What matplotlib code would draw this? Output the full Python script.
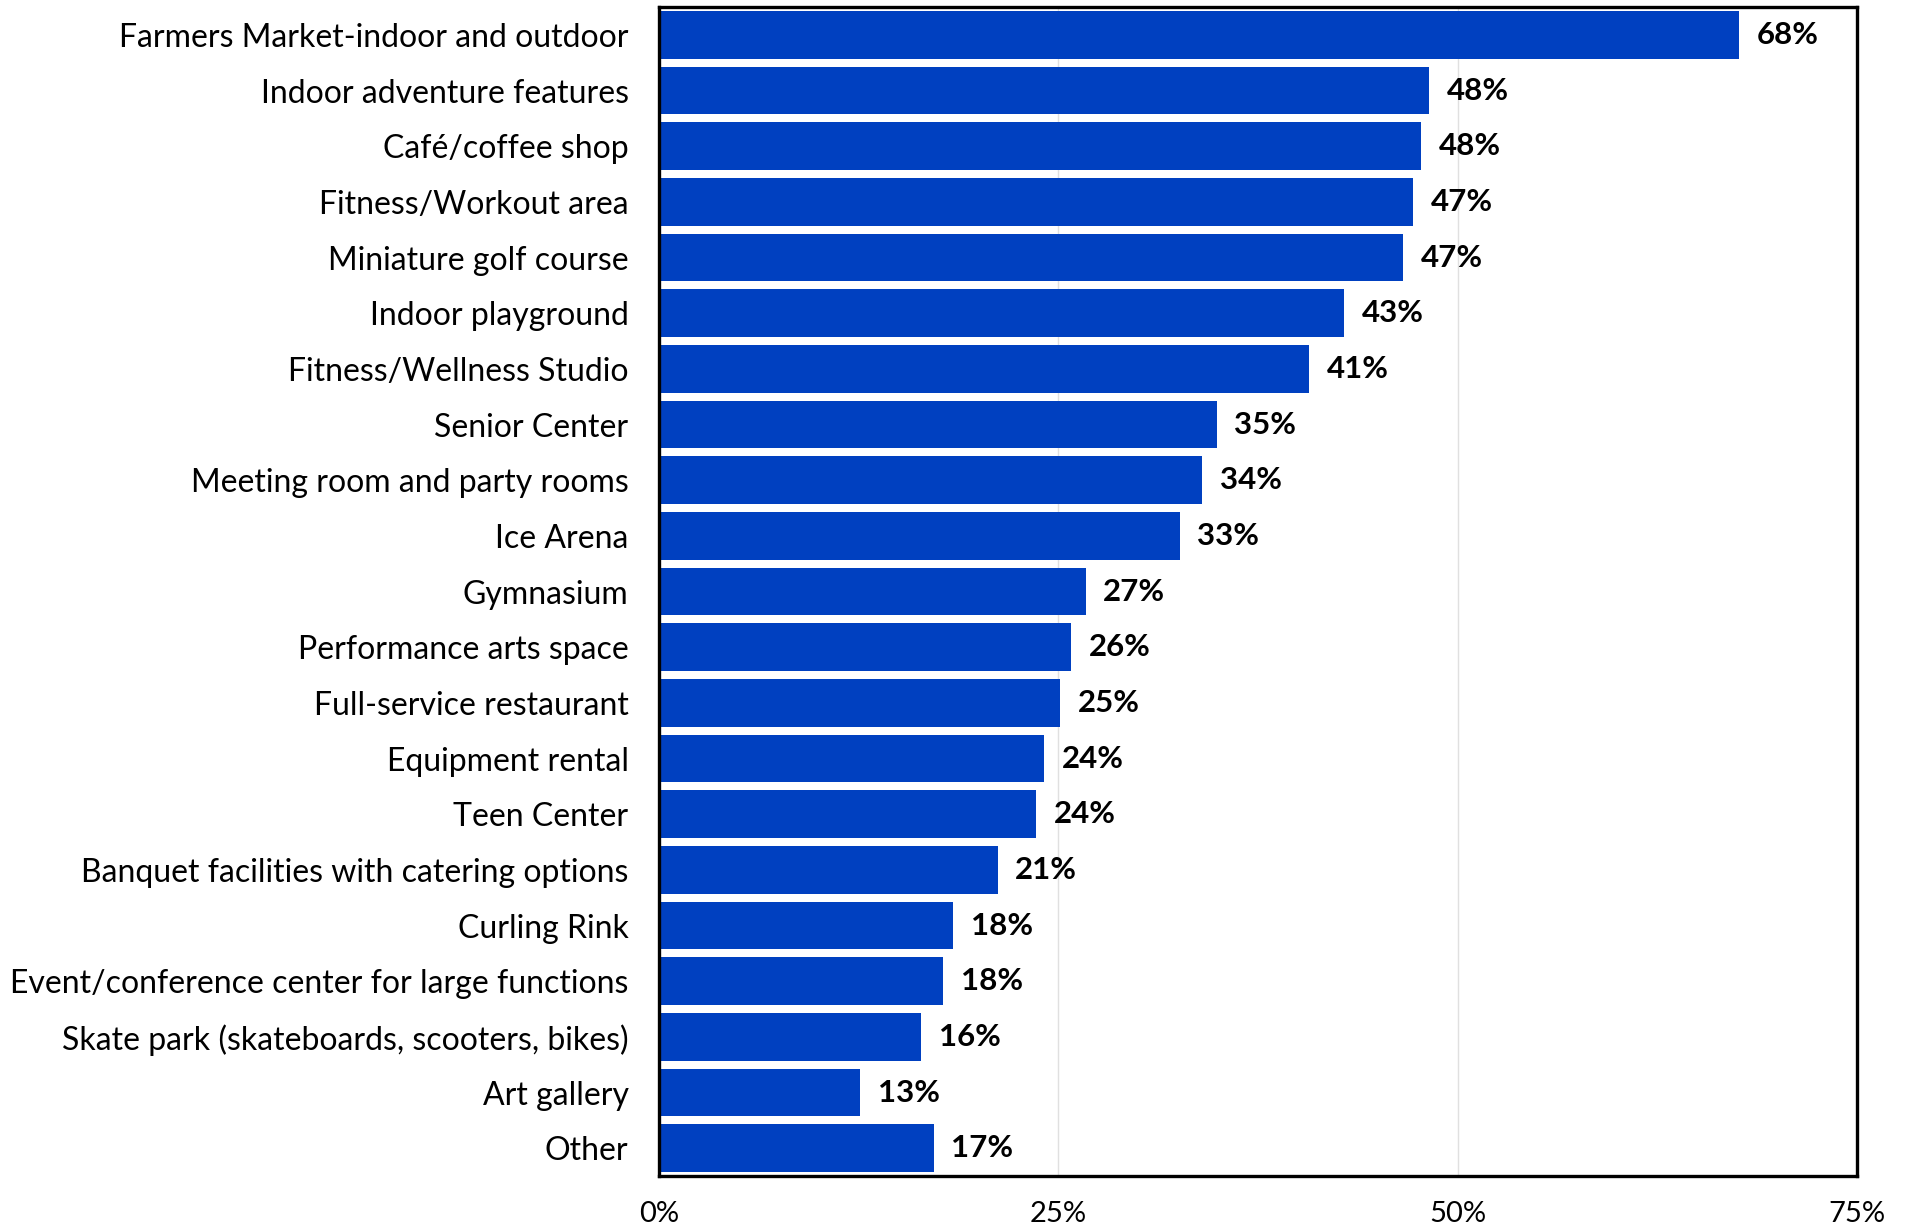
import matplotlib.pyplot as plt
import numpy as np

categories = [
    'Farmers Market-indoor and outdoor', 'Indoor adventure features', 'Café/coffee shop',
    'Fitness/Workout area', 'Miniature golf course', 'Indoor playground',
    'Fitness/Wellness Studio', 'Senior Center', 'Meeting room and party rooms',
    'Ice Arena', 'Gymnasium', 'Performance arts space', 'Full-service restaurant',
    'Equipment rental', 'Teen Center', 'Banquet facilities with catering options',
    'Curling Rink', 'Event/conference center for large functions',
    'Skate park (skateboards, scooters, bikes)', 'Art gallery', 'Other',
]
values = [67.6, 48.2, 47.7, 47.2, 46.6, 42.9, 40.7, 34.9, 34.0, 32.6, 26.7,
          25.8, 25.1, 24.1, 23.6, 21.2, 18.4, 17.8, 16.4, 12.6, 17.2]
xticks = [0, 25, 50, 75]

plt.rcParams['font.family'] = ['Lato', 'DejaVu Sans']

fig = plt.figure(figsize=(19.07, 12.28), dpi=100)
ax = fig.add_axes([0.3456, 0.0423, 0.6282, 0.9520])

y = np.arange(len(categories))
ax.barh(y, values, height=0.86, color='#0040C0', zorder=2)

for yi, v in zip(y, values):
    ax.text(v + 1.1, yi, f'{v:.0f}%', va='center', ha='left',
            fontsize=22.5, fontweight='bold', color='black')

ax.set_xlim(0, 75)
ax.set_ylim(len(categories) - 0.5, -0.5)
ax.set_yticks(y)
ax.set_yticklabels(categories, fontsize=23)
ax.set_xticks(xticks)
ax.set_xticklabels([f'{t}%' for t in xticks], fontsize=21)
ax.tick_params(axis='both', length=0)
ax.tick_params(axis='y', pad=22)
ax.tick_params(axis='x', pad=18)

ax.grid(axis='x', color='#e0e0e0', linewidth=1, zorder=0)
ax.set_axisbelow(True)
for side in ax.spines.values():
    side.set_linewidth(2.4)
    side.set_color('black')

fig.savefig('out.png', dpi=100)
